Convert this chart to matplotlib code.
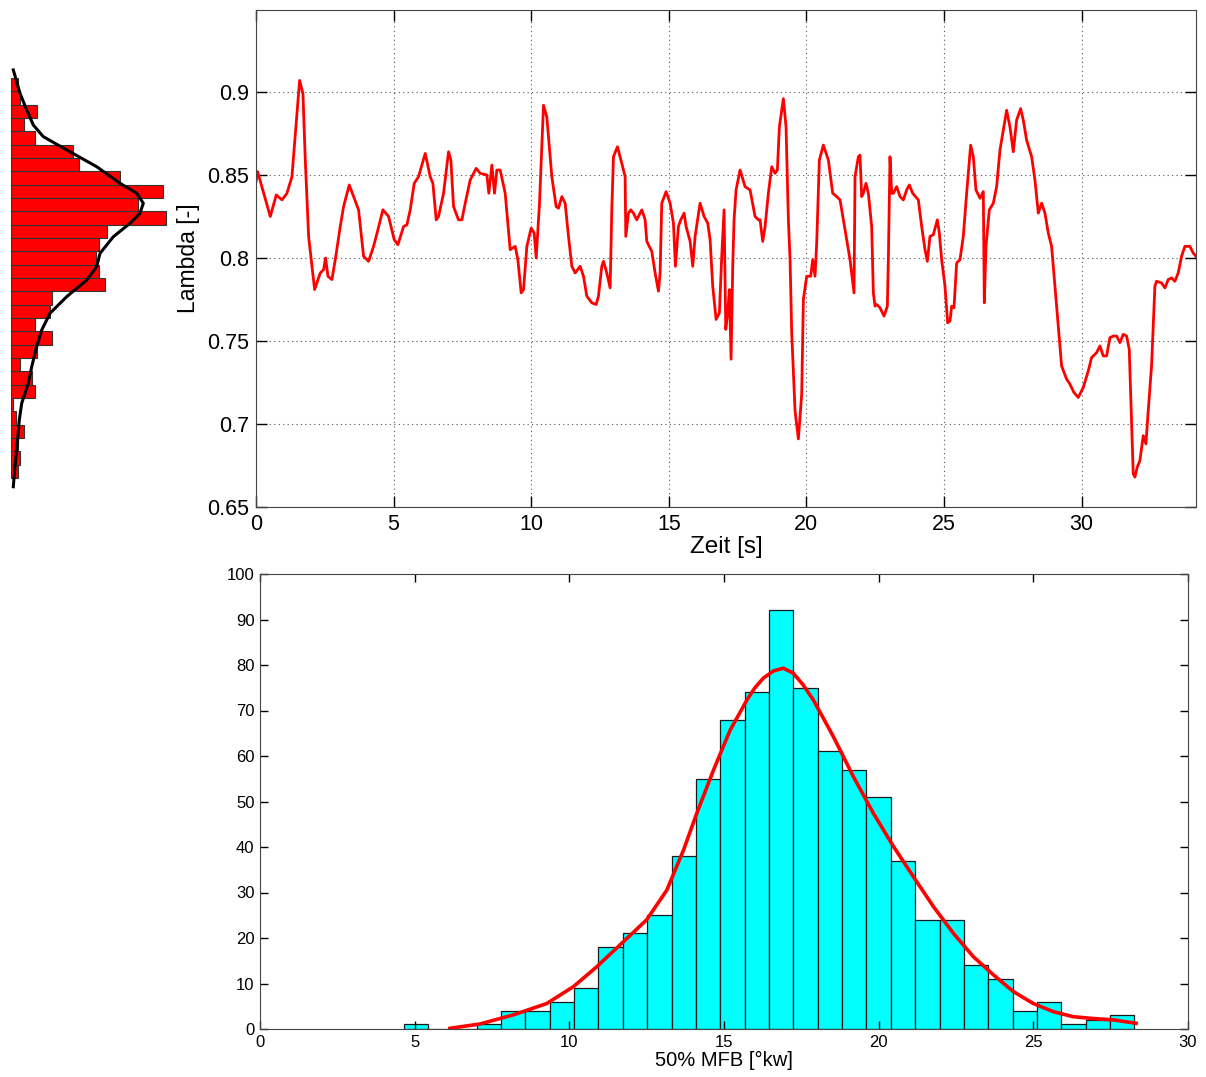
import numpy as np
import matplotlib
matplotlib.use("Agg")
import matplotlib.pyplot as plt

plt.rcParams['font.family'] = ['Liberation Sans', 'DejaVu Sans']

# lambda trace over time
zeit = [0.0, 0.059, 0.519, 0.737, 0.943, 1.125, 1.306, 1.403, 1.585, 1.706, 1.791, 1.912,
        2.130, 2.336, 2.457, 2.529, 2.614, 2.759, 2.881, 3.062, 3.183, 3.389, 3.546, 3.728,
        3.910, 4.091, 4.273, 4.430, 4.612, 4.818, 5.024, 5.157, 5.363, 5.484, 5.605, 5.750,
        5.907, 6.150, 6.331, 6.428, 6.549, 6.634, 6.816, 6.997, 7.082, 7.179, 7.360, 7.482,
        7.603, 7.784, 8.002, 8.148, 8.390, 8.462, 8.571, 8.668, 8.753, 8.874, 9.056, 9.237,
        9.419, 9.516, 9.637, 9.722, 9.843, 10.000, 10.109, 10.182, 10.303, 10.448, 10.569,
        10.751, 10.908, 10.993, 11.114, 11.235, 11.356, 11.477, 11.598, 11.780, 11.901,
        12.022, 12.203, 12.361, 12.445, 12.566, 12.627, 12.748, 12.869, 12.930, 12.990,
        13.136, 13.293, 13.414, 13.438, 13.535, 13.620, 13.717, 13.838, 14.020, 14.141,
        14.201, 14.383, 14.504, 14.625, 14.685, 14.746, 14.903, 15.049, 15.170, 15.242,
        15.351, 15.436, 15.557, 15.630, 15.775, 15.872, 15.957, 16.138, 16.284, 16.417,
        16.502, 16.598, 16.720, 16.840, 16.925, 17.010, 17.071, 17.143, 17.204, 17.264,
        17.325, 17.373, 17.446, 17.591, 17.773, 17.955, 18.136, 18.257, 18.318, 18.415,
        18.500, 18.620, 18.742, 18.863, 18.947, 19.020, 19.165, 19.262, 19.347, 19.408,
        19.468, 19.589, 19.710, 19.831, 19.892, 20.013, 20.158, 20.231, 20.315, 20.376,
        20.473, 20.618, 20.800, 20.957, 21.103, 21.224, 21.345, 21.466, 21.587, 21.732,
        21.769, 21.890, 21.950, 22.011, 22.071, 22.168, 22.253, 22.374, 22.435, 22.495,
        22.556, 22.677, 22.823, 22.944, 22.980, 23.040, 23.101, 23.162, 23.283, 23.404,
        23.525, 23.646, 23.743, 23.864, 24.070, 24.191, 24.312, 24.397, 24.493, 24.615,
        24.760, 24.833, 24.917, 25.038, 25.135, 25.220, 25.280, 25.365, 25.462, 25.583,
        25.704, 25.825, 25.971, 26.067, 26.164, 26.310, 26.431, 26.467, 26.528, 26.649,
        26.794, 26.915, 27.036, 27.157, 27.278, 27.399, 27.520, 27.641, 27.787, 27.884,
        28.005, 28.187, 28.307, 28.429, 28.550, 28.671, 28.792, 28.913, 29.034, 29.155,
        29.276, 29.458, 29.579, 29.724, 29.882, 30.063, 30.245, 30.366, 30.548, 30.669,
        30.790, 30.911, 31.032, 31.153, 31.274, 31.395, 31.516, 31.637, 31.734, 31.879,
        31.940, 32.025, 32.121, 32.243, 32.340, 32.424, 32.545, 32.666, 32.727, 32.909,
        33.030, 33.151, 33.272, 33.393, 33.514, 33.635, 33.756, 33.938, 34.059, 34.156]
lambda_vals = [0.846, 0.852, 0.825, 0.838, 0.835, 0.839, 0.849, 0.869, 0.907, 0.899, 0.859, 0.813,
               0.781, 0.791, 0.793, 0.800, 0.789, 0.787, 0.799, 0.819, 0.831, 0.844, 0.837, 0.829,
               0.801, 0.798, 0.807, 0.817, 0.829, 0.825, 0.811, 0.808, 0.819, 0.820, 0.829, 0.845,
               0.849, 0.863, 0.849, 0.845, 0.823, 0.825, 0.839, 0.864, 0.859, 0.831, 0.823, 0.823,
               0.833, 0.847, 0.854, 0.851, 0.850, 0.839, 0.856, 0.839, 0.853, 0.853, 0.839, 0.805,
               0.807, 0.799, 0.779, 0.781, 0.807, 0.818, 0.815, 0.800, 0.833, 0.892, 0.885,
               0.849, 0.831, 0.830, 0.837, 0.833, 0.813, 0.795, 0.791, 0.795, 0.789,
               0.777, 0.773, 0.772, 0.777, 0.795, 0.798, 0.791, 0.782, 0.829, 0.861,
               0.867, 0.857, 0.849, 0.813, 0.827, 0.829, 0.827, 0.823, 0.829, 0.823,
               0.810, 0.804, 0.791, 0.780, 0.791, 0.833, 0.840, 0.833, 0.821, 0.795,
               0.819, 0.823, 0.827, 0.819, 0.810, 0.795, 0.813, 0.833, 0.825, 0.821,
               0.811, 0.783, 0.763, 0.767, 0.801, 0.829, 0.757, 0.767, 0.781, 0.739,
               0.795, 0.823, 0.841, 0.853, 0.843, 0.841, 0.825, 0.823, 0.823, 0.810,
               0.819, 0.839, 0.855, 0.851, 0.853, 0.879, 0.896, 0.879, 0.823, 0.799,
               0.755, 0.708, 0.691, 0.718, 0.775, 0.789, 0.789, 0.799, 0.789, 0.809,
               0.859, 0.868, 0.859, 0.839, 0.837, 0.835, 0.823, 0.811, 0.799, 0.779,
               0.849, 0.861, 0.862, 0.837, 0.839, 0.845, 0.839, 0.819, 0.779, 0.771,
               0.772, 0.770, 0.765, 0.771, 0.799, 0.861, 0.839, 0.839, 0.843, 0.837,
               0.835, 0.841, 0.844, 0.839, 0.835, 0.819, 0.805, 0.798, 0.813, 0.814,
               0.823, 0.815, 0.799, 0.783, 0.761, 0.762, 0.771, 0.770, 0.797, 0.799,
               0.813, 0.839, 0.868, 0.861, 0.841, 0.836, 0.840, 0.773, 0.807, 0.829,
               0.833, 0.843, 0.865, 0.877, 0.889, 0.879, 0.864, 0.883, 0.890, 0.883,
               0.871, 0.861, 0.847, 0.827, 0.833, 0.827, 0.815, 0.807, 0.783, 0.759,
               0.735, 0.727, 0.724, 0.719, 0.716, 0.722, 0.732, 0.740, 0.743, 0.747,
               0.741, 0.741, 0.752, 0.753, 0.753, 0.749, 0.754, 0.753, 0.745, 0.670,
               0.668, 0.674, 0.678, 0.693, 0.688, 0.708, 0.735, 0.783, 0.786, 0.785,
               0.782, 0.787, 0.788, 0.786, 0.791, 0.801, 0.807, 0.807, 0.803, 0.801]

# side histogram of lambda (30 bins, bottom -> top)
lambda_min, lambda_max = 0.6675, 0.9084
lambda_counts = [7, 9, 7, 13, 5, 2, 24, 21, 9, 26, 41, 24, 39, 41, 94,
                 88, 85, 88, 96, 155, 127, 152, 109, 68, 62, 24, 13, 26, 9, 7]
kde_lambda = [0.9133, 0.8992, 0.8892, 0.8801, 0.8731, 0.8651, 0.8550, 0.8450, 0.8390,
              0.8330, 0.8269, 0.8209, 0.8128, 0.8028, 0.7948, 0.7867, 0.7767, 0.7667,
              0.7566, 0.7466, 0.7345, 0.7245, 0.7125, 0.7024, 0.6884, 0.6743, 0.6622]
kde_dens = [2.3, 9.0, 15.7, 22.3, 32.3, 55.7, 85.7, 109.0, 125.7, 132.3, 129.0, 119.0,
            102.3, 89.0, 85.7, 75.7, 55.7, 39.0, 30.7, 25.7, 20.7, 17.3, 10.7, 8.3, 6.3, 4.0, 2.3]

# 50% MFB histogram (30 bins)
mfb_min, mfb_max = 4.64, 28.27
mfb_counts = [1, 0, 0, 1, 4, 4, 6, 9, 18, 21, 25, 38, 55, 68, 74,
              92, 75, 61, 57, 51, 37, 24, 24, 14, 11, 4, 6, 1, 2, 3]
fit_x = [6.14, 7.11, 8.19, 9.27, 10.13, 10.89, 11.75, 12.50, 13.15, 13.69, 14.12, 14.66,
         15.20, 15.74, 16.00, 16.27, 16.60, 16.92, 17.24, 17.55, 17.89, 18.54, 19.18, 19.83,
         20.48, 21.12, 21.77, 22.42, 23.06, 23.71, 24.36, 25.00, 25.65, 26.29, 26.94, 27.59,
         28.32]
fit_y = [0.15, 1.1, 3.1, 5.6, 9.3, 13.7, 19.2, 24.0, 30.5, 39.3, 47.4, 56.9,
         65.7, 72.3, 75.0, 77.1, 78.7, 79.3, 78.2, 75.7, 72.3, 64.2, 55.5, 47.4,
         40.1, 33.5, 26.9, 21.0, 15.9, 11.9, 8.2, 5.6, 3.8, 2.7, 2.3, 2.0,
         1.25]

W, H = 1206, 1077
fig = plt.figure(figsize=(W / 100, H / 100), dpi=100)

spine_col = '#444444'
grid_col = '#555555'

# ---- top: lambda vs time
ax = fig.add_axes([256 / W, 1 - 507 / H, 940 / W, 497 / H])
ax.plot(zeit, lambda_vals, color='red', lw=2.0, solid_joinstyle='round')
ax.set_xlim(0, 34.16)
ax.set_ylim(0.65, 0.9494)
ax.set_xticks(range(0, 31, 5))
ax.set_yticks([0.65, 0.7, 0.75, 0.8, 0.85, 0.9])
ax.set_yticklabels(['0.65', '0.7', '0.75', '0.8', '0.85', '0.9'])
ax.grid(True, linestyle=(0, (1, 3)), color=grid_col, lw=0.8)
ax.tick_params(direction='in', length=8, width=1, top=True, right=True,
               labelsize=15.5, pad=5, colors='black')
ax.set_xlabel('Zeit [s]', fontsize=17.5, labelpad=1)
ax.set_ylabel('Lambda [-]', fontsize=16.5, labelpad=5)
for s in ax.spines.values():
    s.set_color(spine_col)

# ---- side histogram of lambda
ax_side = fig.add_axes([11 / W, 1 - 507 / H, 170 / W, 497 / H], sharey=ax)
l_edges = np.linspace(lambda_min, lambda_max, len(lambda_counts) + 1)
l_centers = (l_edges[:-1] + l_edges[1:]) / 2
ax_side.barh(l_centers, lambda_counts, height=np.diff(l_edges), left=0,
             color='red', edgecolor='#333333', lw=0.8)
ax_side.plot(kde_dens, kde_lambda, color='black', lw=2.2)
ax_side.set_xlim(0, 170)
ax_side.axis('off')

# ---- bottom: MFB histogram
ax2 = fig.add_axes([260 / W, 1 - 1029 / H, 928 / W, 455 / H])
m_edges = np.linspace(mfb_min, mfb_max, len(mfb_counts) + 1)
ax2.bar(m_edges[:-1], mfb_counts, width=np.diff(m_edges), align='edge',
        color='#00ffff', edgecolor='#1a1a1a', lw=0.9)
ax2.plot(fit_x, fit_y, color='red', lw=2.6, solid_joinstyle='round')
ax2.set_xlim(0, 30)
ax2.set_ylim(0, 100)
ax2.set_xticks(range(0, 31, 5))
ax2.set_yticks(range(0, 101, 10))
ax2.tick_params(direction='in', length=6, width=1, top=True, right=True,
                labelsize=12, pad=4)
ax2.set_xlabel('50% MFB [°kw]', fontsize=14.5, labelpad=1)
for s in ax2.spines.values():
    s.set_color(spine_col)

fig.savefig('out.png', dpi=100)
